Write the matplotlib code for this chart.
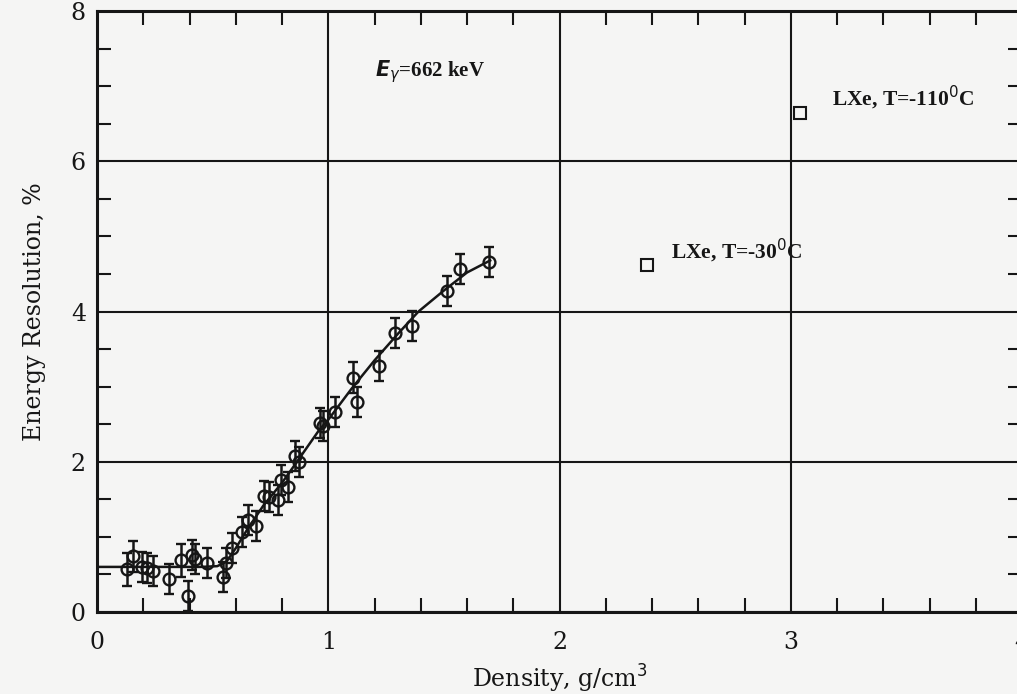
import matplotlib
matplotlib.use("Agg")
import matplotlib.pyplot as plt
from matplotlib.ticker import MultipleLocator

# measured points: density (g/cm3), resolution (%), error (%)
density = [0.13, 0.155, 0.193, 0.215, 0.243, 0.311, 0.361, 0.395, 0.409, 0.423,
           0.474, 0.543, 0.557, 0.582, 0.629, 0.654, 0.687, 0.72, 0.745, 0.783,
           0.795, 0.826, 0.857, 0.872, 0.963, 0.978, 1.028, 1.107, 1.122, 1.218,
           1.287, 1.364, 1.513, 1.571, 1.695]
resolution = [0.57, 0.74, 0.60, 0.59, 0.54, 0.44, 0.69, 0.21, 0.76, 0.71,
              0.65, 0.47, 0.65, 0.85, 1.07, 1.23, 1.14, 1.55, 1.53, 1.49,
              1.76, 1.67, 2.08, 2.00, 2.52, 2.47, 2.66, 3.12, 2.79, 3.28,
              3.71, 3.81, 4.27, 4.56, 4.66]
res_err = [0.22, 0.21, 0.2, 0.2, 0.2, 0.2, 0.22, 0.2, 0.2, 0.2,
           0.2, 0.2, 0.2, 0.2, 0.2, 0.2, 0.2, 0.2, 0.2, 0.2,
           0.2, 0.2, 0.2, 0.2, 0.2, 0.2, 0.2, 0.21, 0.2, 0.2,
           0.2, 0.2, 0.2, 0.2, 0.2]

# fitted curve through the gas data
fit_x = [0.0, 0.45, 0.52, 0.56, 0.6, 0.65, 0.72, 0.8, 0.86, 0.96, 1.0,
         1.1, 1.2, 1.3, 1.39, 1.5, 1.6, 1.7]
fit_y = [0.6, 0.6, 0.61, 0.67, 0.85, 1.1, 1.42, 1.72, 1.98, 2.42, 2.56,
         2.97, 3.35, 3.7, 4.0, 4.28, 4.52, 4.68]

# liquid xenon points
lxe_x = [2.38, 3.04]
lxe_y = [4.62, 6.64]
lxe_labels = ["LXe, T=-30$^0$C", "LXe, T=-110$^0$C"]

ink = "#161616"
paper = "#f5f5f4"

fig = plt.figure(figsize=(10.17, 6.94), dpi=100, facecolor=paper)
ax = fig.add_axes([0.0954, 0.1182, 0.9096, 0.8658])
ax.set_facecolor(paper)

ax.plot(fit_x, fit_y, color=ink, lw=1.8, zorder=3)
ax.errorbar(density, resolution, yerr=res_err, fmt="o", ms=8.5, mfc="none",
            mec=ink, mew=1.7, ecolor=ink, elinewidth=1.8, capsize=3.5,
            capthick=1.8, zorder=4)
ax.plot(lxe_x, lxe_y, "s", ms=8, mfc="none", mec=ink, mew=1.5, zorder=4)

ax.text(2.48, 4.80, lxe_labels[0], fontsize=15.5, fontweight="bold",
        family="Liberation Serif", color=ink, va="center")
ax.text(3.18, 6.84, lxe_labels[1], fontsize=15.5, fontweight="bold",
        family="Liberation Serif", color=ink, va="center")
ax.text(1.2, 7.2, r"$\mathbfit{E}_{\gamma}$=662 keV", fontsize=15,
        fontweight="bold", family="Liberation Serif", color=ink, va="center")

ax.set_xlim(0, 4)
ax.set_ylim(0, 8)
ax.xaxis.set_major_locator(MultipleLocator(1))
ax.xaxis.set_minor_locator(MultipleLocator(0.2))
ax.yaxis.set_major_locator(MultipleLocator(2))
ax.yaxis.set_minor_locator(MultipleLocator(0.5))
ax.grid(True, which="major", color=ink, lw=1.5)
ax.set_axisbelow(True)
ax.tick_params(which="both", direction="in", top=True, right=True,
               color=ink, width=1.5)
ax.tick_params(which="major", length=0, labelsize=17, labelcolor=ink)
ax.tick_params(axis="x", which="major", pad=14)
ax.tick_params(axis="y", which="major", pad=8)
ax.tick_params(which="minor", length=10)
for lab in ax.get_xticklabels() + ax.get_yticklabels():
    lab.set_family("DejaVu Serif")
for side in ax.spines.values():
    side.set_linewidth(2.2)
    side.set_color(ink)

ax.set_xlabel("Density, g/cm$^3$", fontsize=17, family="DejaVu Serif",
              color=ink, labelpad=6)
ax.set_ylabel("Energy Resolution, %", fontsize=17, family="DejaVu Serif",
              color=ink, labelpad=18)

fig.savefig("out.png", dpi=100, facecolor=paper)
